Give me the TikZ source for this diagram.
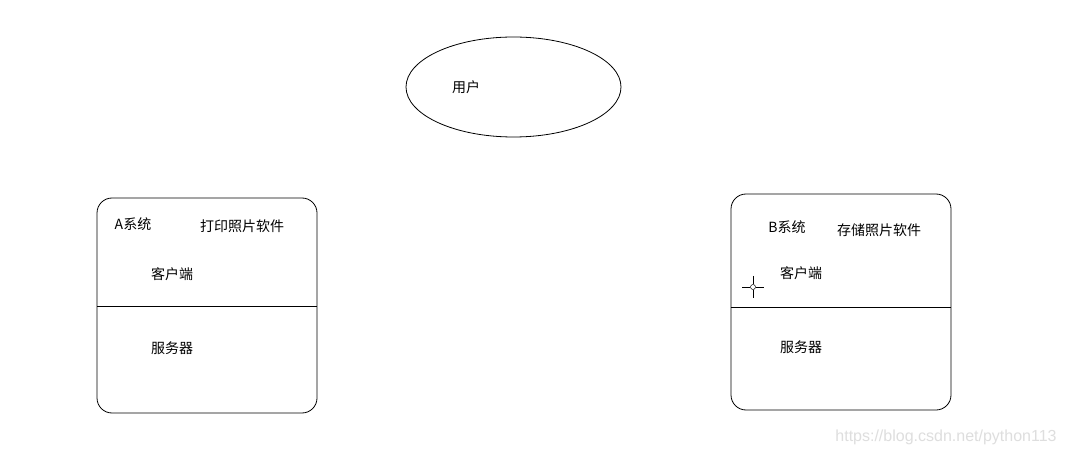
\documentclass[tikz,border=0pt]{standalone}
\usepackage{fontspec}
\setmainfont{Liberation Sans}
\newfontfamily\cjk{Noto Sans CJK SC}
\usetikzlibrary{shapes.geometric}
\begin{document}
\begin{tikzpicture}[x=1pt,y=-1pt,
  lbl/.style={font=\cjk\fontsize{14}{16}\selectfont, inner sep=0pt},
  sysbox/.style={draw, rounded corners=15pt, line width=0.8pt, minimum width=220pt, minimum height=215pt, inner sep=0pt},
  divider/.style={line width=0.8pt}]
\useasboundingbox (0,0) rectangle (1065,454);
\fill[white] (0,0) rectangle (1065,454);
% user ellipse
\node[ellipse, draw, line width=0.8pt, minimum width=215pt, minimum height=100pt, inner sep=0pt] (user) at (513.5,87) {};
\node[lbl] (userlbl) at (466,87) {用户};
% box A
\node[sysbox] (boxA) at (207,305.5) {};
\coordinate (dAl) at (97,306);
\coordinate (dAr) at (317,306);
\draw[divider] (dAl) -- (dAr);
\node[lbl] (sysA) at (133,224) {A系统};
\node[lbl] (swA) at (242,226) {打印照片软件};
\node[lbl] (cliA) at (172,274) {客户端};
\node[lbl] (srvA) at (172,348) {服务器};
% box B
\node[sysbox, minimum height=216pt] (boxB) at (841,302) {};
\coordinate (dBl) at (731,307);
\coordinate (dBr) at (951,307);
\draw[divider] (dBl) -- (dBr);
\node[lbl] (sysB) at (787,227) {B系统};
\node[lbl] (swB) at (879,230) {存储照片软件};
\node[lbl] (cliB) at (801,273) {客户端};
\node[lbl] (srvB) at (801,347) {服务器};
% crosshair cursor
\coordinate (ch) at (753,287);
\draw[line width=0.6pt] (ch) ++(-11,0) -- ++(8,0) (ch) ++(3,0) -- ++(8,0)
  (ch) ++(0,-11) -- ++(0,8) (ch) ++(0,3) -- ++(0,8);
\draw[line width=0.5pt] (ch) circle (2.5pt);
% watermark
\node[font=\fontsize{16}{18}\selectfont, text=black!13, inner sep=0pt] (wm) at (946,437) {https://blog.csdn.net/python113};
\end{tikzpicture}
\end{document}
